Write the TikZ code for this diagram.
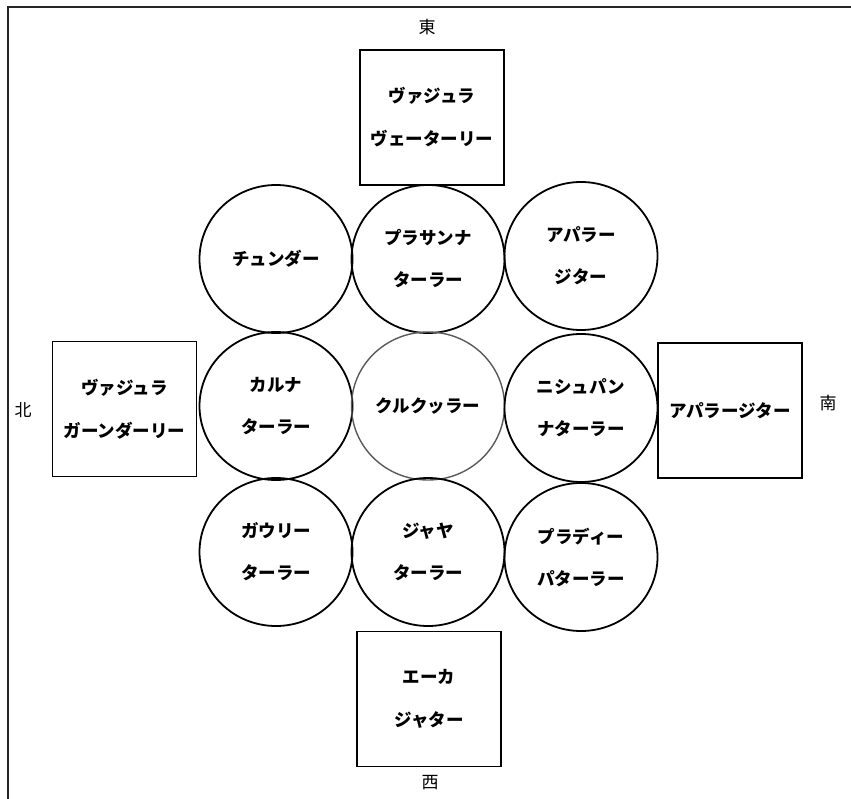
\documentclass[tikz,border=0pt]{standalone}
\usepackage{fontspec}
\setmainfont{Noto Sans CJK JP}
\usetikzlibrary{shapes.geometric}
\tikzset{
  seat/.style={ellipse, draw=black, line width=1.8pt, minimum width=153pt, minimum height=148pt, inner sep=0pt, align=center, font=\fontsize{17.5}{42}\selectfont\bfseries},
  gate/.style={rectangle, draw=black, line width=1.8pt, minimum width=144pt, minimum height=135pt, inner sep=0pt, align=center, font=\fontsize{17.5}{43}\selectfont\bfseries},
  dir/.style={font=\fontsize{17}{20}\selectfont},
  frame/.style={draw=black!85, line width=2pt}
}
\begin{document}
\begin{tikzpicture}[x=1pt,y=-1pt]
\useasboundingbox (0,0) rectangle (851,799);
\coordinate (fb) at (8,800);
\coordinate (fc) at (8,7);
\coordinate (fr) at (852,7);
\draw[frame] (fb) -- (fc) -- (fr);

\node[gate] (t) at (432,117.5) {ヴァジュラ\\ヴェーターリー};
\node[gate] (b) at (429,699) {エーカ\\ジャター};
\node[gate] (l) at (124.5,409) {ヴァジュラ\\ガーンダーリー};
\node[gate] (r) at (730,410.5) {アパラージター};

\node[seat] (c11) at (276,259) {チュンダー};
\node[seat] (c12) at (428,259) {プラサンナ\\ターラー};
\node[seat] (c13) at (581,256) {アパラー\\ジター};
\node[seat] (c21) at (276,406) {カルナ\\ターラー};
\node[seat, draw=black!65, line width=1.4pt] (c22) at (428,406) {クルクッラー};
\node[seat] (c23) at (581,408) {ニシュパン\\ナターラー};
\node[seat] (c31) at (276,552) {ガウリー\\ターラー};
\node[seat] (c32) at (428,552) {ジャヤ\\ターラー};
\node[seat] (c33) at (581,557) {プラディー\\パターラー};

\node[dir] (east) at (427,27) {東};
\node[dir] (west) at (430,783) {西};
\node[dir] (north) at (23,410) {北};
\node[dir] (south) at (828,403) {南};
\end{tikzpicture}
\end{document}
